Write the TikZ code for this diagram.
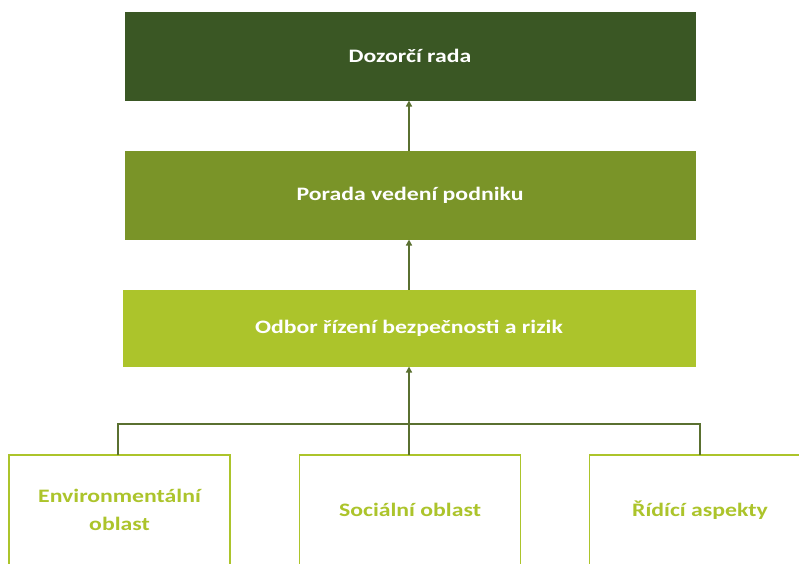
\documentclass[tikz,border=0pt]{standalone}
\usepackage{fontspec}
\setmainfont{Carlito}[FakeStretch=1.25]
\usetikzlibrary{arrows.meta}
\definecolor{cdark}{HTML}{3A5724}
\definecolor{cmid}{HTML}{7A9428}
\definecolor{clight}{HTML}{ACC42B}
\definecolor{cline}{HTML}{5A7030}
\begin{document}
\begin{tikzpicture}[x=1pt,y=-1pt,
  topbox/.style={draw=#1,fill=#1,line width=1pt,minimum width=570pt,inner sep=0pt,text=white,font=\bfseries\fontsize{19}{22}\selectfont},
  subbox/.style={draw=clight,fill=white,line width=1.5pt,minimum width=221pt,minimum height=110pt,inner sep=0pt,text=clight,align=center,font=\bfseries\fontsize{19}{28}\selectfont},
  conn/.style={draw=cline,line width=1.4pt},
  arr/.style={conn,-{Triangle[length=6pt,width=6pt]}}]
\useasboundingbox (0,0) rectangle (799,563);
\node[topbox=cdark,minimum height=88pt] (dr) at (410,56) {Dozorčí rada};
\node[topbox=cmid,minimum height=88pt] (pv) at (410,195) {Porada vedení podniku};
\node[topbox=clight,minimum height=76pt,minimum width=572pt] (or) at (409,328) {Odbor řízení bezpečnosti a rizik};
\node[subbox] (env) at (119.5,510) {Environmentální\\oblast};
\node[subbox] (soc) at (410,510) {Sociální oblast};
\node[subbox] (rid) at (700,510) {Řídící aspekty};
\coordinate (j) at (409,424);
\draw[arr] (pv.north -| 409,0) -- (dr.south -| 409,0);
\draw[arr] (or.north -| 409,0) -- (pv.south -| 409,0);
\draw[conn] (118,455) |- (j) -| (700,455);
\draw[arr] (409,455) -- (or.south -| 409,0);
\end{tikzpicture}
\end{document}
